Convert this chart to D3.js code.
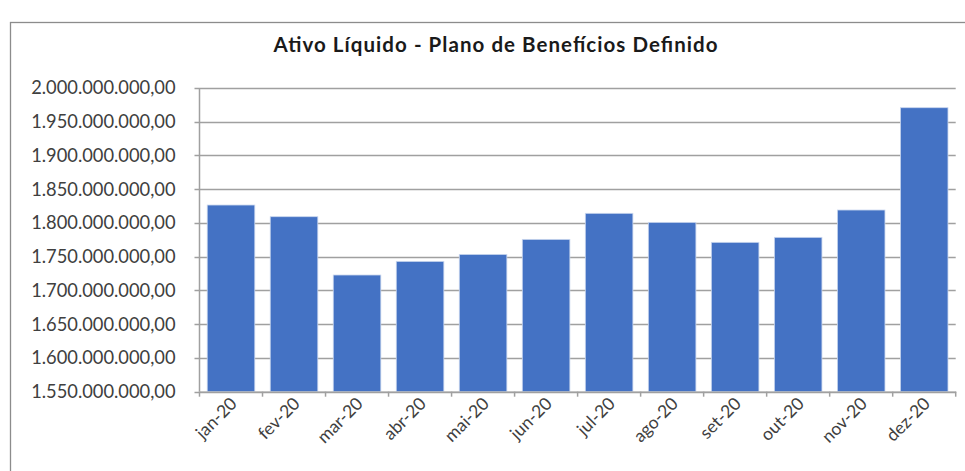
<!DOCTYPE html>
<html>
<head>
<meta charset="utf-8">
<script src="https://cdn.jsdelivr.net/npm/d3@7"></script>
<style>
body { margin:0; background:#fff; }
text { font-family: Lato, "Open Sans", sans-serif; fill:#404040; }
.title { font-weight:bold; fill:#1a1a1a; }
</style>
</head>
<body>
<svg id="chart"></svg>
<script>
var months = ["jan-20","fev-20","mar-20","abr-20","mai-20","jun-20","jul-20","ago-20","set-20","out-20","nov-20","dez-20"]
var ativo = [1826600000,1809300000,1722900000,1743100000,1753400000,1775700000,1814300000,1800900000,1771300000,1778700000,1819200000,1970800000]
var yTicks = [1550000000,1600000000,1650000000,1700000000,1750000000,1800000000,1850000000,1900000000,1950000000,2000000000]

var screen = {width:965,height:471}
var margins = {left:199.5,right:9.3,top:88,bottom:79.3}
var graph = {
    width:screen.width-margins.left-margins.right,
    height:screen.height-margins.top-margins.bottom
}

var svg = d3.select("#chart")
    .attr("width",screen.width)
    .attr("height",screen.height)

// chart border
svg.append("rect")
    .attr("x",10.5)
    .attr("y",22.5)
    .attr("width",970)
    .attr("height",470)
    .attr("fill","none")
    .attr("stroke","#8c8c8c")
    .attr("stroke-width",1.3)

var xScale = d3.scaleBand()
    .domain(months)
    .range([0,graph.width])
    .paddingInner(0.245)
    .paddingOuter(0.1225)

var yScale = d3.scaleLinear()
    .domain([1550000000,2000000000])
    .range([graph.height,0])

var fmt = function(v)
{
    return d3.format(",.2f")(v).replace(/,/g,"#").replace(".",",").replace(/#/g,".")
}

var target = svg.append("g")
    .attr("transform","translate("+margins.left+","+margins.top+")")

// gridlines
target.append("g")
    .selectAll("line")
    .data(yTicks)
    .enter()
    .append("line")
    .attr("x1",-5)
    .attr("x2",graph.width)
    .attr("y1",function(d){return Math.round(yScale(d))+0.5})
    .attr("y2",function(d){return Math.round(yScale(d))+0.5})
    .attr("stroke","#a0a0a0")
    .attr("stroke-width",1.5)

// y axis labels
target.append("g")
    .selectAll("text")
    .data(yTicks)
    .enter()
    .append("text")
    .text(fmt)
    .attr("x",-24)
    .attr("y",function(d){return yScale(d)})
    .attr("dy","0.35em")
    .attr("text-anchor","end")
    .style("font-size","18.3px")

// bars
target.selectAll("rect.bar")
    .data(ativo)
    .enter()
    .append("rect")
    .classed("bar",true)
    .attr("x",function(d,i){return xScale(months[i])})
    .attr("y",function(d){return yScale(d)})
    .attr("width",xScale.bandwidth())
    .attr("height",function(d){return graph.height-yScale(d)})
    .attr("fill","#4472c4")
    .attr("stroke","#c9d6ee")
    .attr("stroke-width",0.8)

// y axis line
target.append("line")
    .attr("x1",0).attr("x2",0)
    .attr("y1",0).attr("y2",graph.height)
    .attr("stroke","#a0a0a0")
    .attr("stroke-width",1.5)

// x axis
var xAxis = d3.axisBottom(xScale).tickSize(0).tickFormat("")
target.append("g")
    .attr("transform","translate(0,"+graph.height+")")
    .call(xAxis)
    .call(function(g){g.select(".domain").attr("stroke","#a0a0a0").attr("stroke-width",1.5)})

var bounds = d3.range(months.length+1).map(function(i){return i*graph.width/months.length})
target.append("g")
    .selectAll("line")
    .data(bounds)
    .enter()
    .append("line")
    .attr("x1",function(d){return d}).attr("x2",function(d){return d})
    .attr("y1",graph.height).attr("y2",graph.height+5)
    .attr("stroke","#a0a0a0")
    .attr("stroke-width",1.5)

target.append("g")
    .selectAll("text")
    .data(months)
    .enter()
    .append("text")
    .text(function(d){return d})
    .attr("text-anchor","end")
    .style("font-size","17.5px")
    .attr("transform",function(d)
    {
        var x = xScale(d)+xScale.bandwidth()/2+7
        return "translate("+x+","+(graph.height+13)+") rotate(-45)"
    })

svg.append("text")
    .text("Ativo Líquido - Plano de Benefícios  Definido")
    .classed("title",true)
    .attr("text-anchor","middle")
    .attr("x",495.5)
    .attr("y",52)
    .attr("textLength",444)
    .attr("lengthAdjust","spacing")
    .style("font-size","20.5px")
</script>
</body>
</html>
